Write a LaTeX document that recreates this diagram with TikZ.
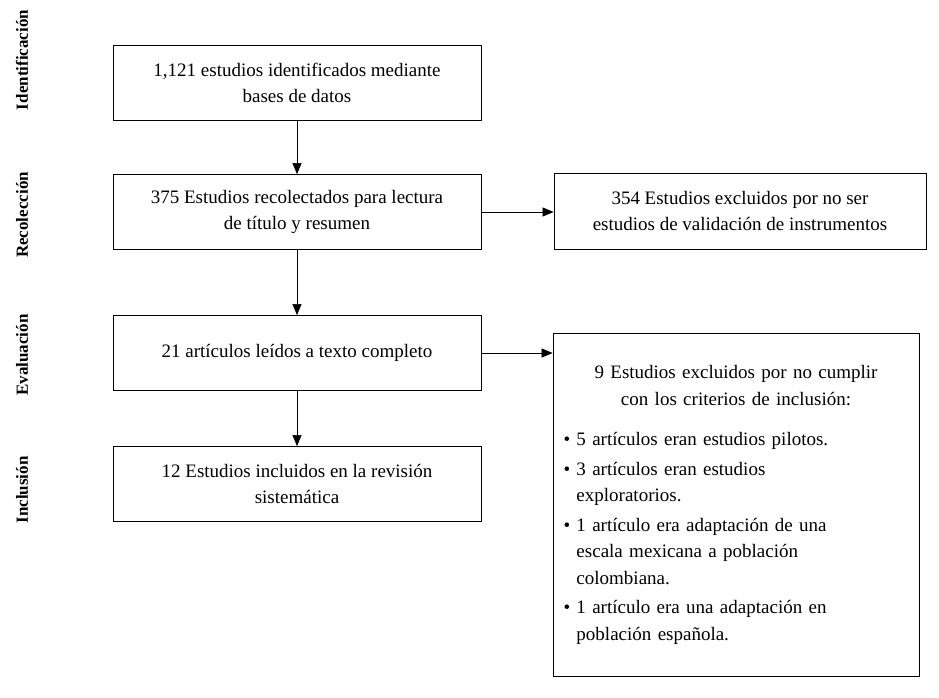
\documentclass[tikz,border=0pt]{standalone}
\usepackage{fontspec}
\setmainfont{Liberation Serif}
\usetikzlibrary{arrows.meta}
\tikzset{
    stage/.style={draw, thick, rectangle, minimum width=368pt, minimum height=75pt, align=center, inner sep=4pt},
    phase/.style={rotate=90, font=\fontsize{17}{20}\selectfont\bfseries},
    flow/.style={-{Triangle[length=11pt,width=9pt]}, semithick} }

\begin{document}
\begin{tikzpicture}[x=1pt, y=-1pt, font=\fontsize{19}{26.5}\selectfont]
    \useasboundingbox (0,0) rectangle (939,697);
    % fases
    \node[phase] (fI) at (22,60) {Identificación};
    \node[phase] (fR) at (22,215) {Recolección};
    \node[phase] (fE) at (22,355) {Evaluación};
    \node[phase] (fN) at (22,490) {Inclusión};
    % cajas
    \node[stage] (id) at (297,83) {1,121 estudios identificados mediante\\bases de datos};
    \node[stage] (rec) at (297,212) {375 Estudios recolectados para lectura\\de título y resumen};
    \node[stage] (ev) at (297,353) {21 artículos leídos a texto completo};
    \node[stage] (inc) at (297,484) {12 Estudios incluidos en la revisión\\sistemática};
    \node[stage, minimum width=372pt, minimum height=76pt] (exA) at (740,211) {354 Estudios excluidos por no ser\\estudios de validación de instrumentos};
    \node[stage, minimum width=366pt, minimum height=343pt, text width=345pt, align=left] (exB) at (736,505)
        {{\centering 9 Estudios excluidos por no cumplir\\con los criterios de inclusión:\par}\vspace{14pt}
        \textbullet\ 5 artículos eran estudios pilotos.\\[3pt]
        \textbullet\ 3 artículos eran estudios\\
        \phantom{\textbullet\ }exploratorios.\\[3pt]
        \textbullet\ 1 artículo era adaptación de una\\
        \phantom{\textbullet\ }escala mexicana a población\\
        \phantom{\textbullet\ }colombiana.\\[3pt]
        \textbullet\ 1 artículo era una adaptación en\\
        \phantom{\textbullet\ }población española.\\[22pt]};
    % flechas
    \draw[flow] (id) -- (rec);
    \draw[flow] (rec) -- (ev);
    \draw[flow] (ev) -- (inc);
    \draw[flow] (rec.east) -- (exA.west |- rec.east);
    \draw[flow] (ev.east) -- (exB.west |- ev.east);
\end{tikzpicture}
\end{document}
